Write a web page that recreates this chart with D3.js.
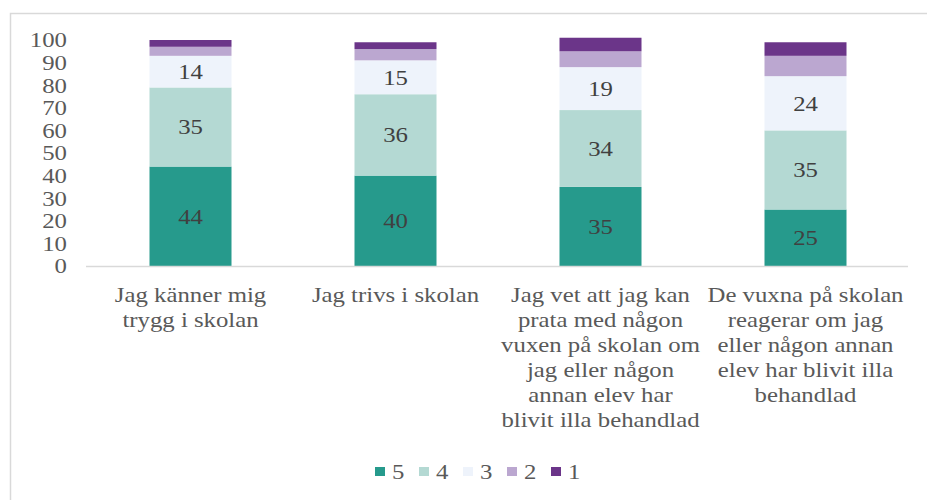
<!DOCTYPE html>
<html>
<head>
<meta charset="utf-8">
<script src="https://cdn.jsdelivr.net/npm/d3@7"></script>
<style>
  body { margin: 0; background: #fff; }
</style>
</head>
<body>
<div id="chart"></div>
<script>
/* data */
const categories = [
  ["Jag känner mig", "trygg i skolan"],
  ["Jag trivs i skolan"],
  ["Jag vet att jag kan", "prata med någon", "vuxen på skolan om", "jag eller någon", "annan elev har", "blivit illa behandlad"],
  ["De vuxna på skolan", "reagerar om jag", "eller någon annan", "elev har blivit illa", "behandlad"]
];
const seriesNames = ["5", "4", "3", "2", "1"];
const v5 = [44, 40, 35, 25];
const v4 = [35, 36, 34, 35];
const v3 = [14, 15, 19, 24];
const v2 = [4, 5, 7, 9];
const v1 = [3, 3, 6, 6];
const yTicks = [0, 10, 20, 30, 40, 50, 60, 70, 80, 90, 100];
const colors = ["#269a8c", "#b4d9d3", "#eef3fb", "#bba7d0", "#6b3589"];

const width = 927, height = 500;
const stretch = 1.18;
const fontFamily = "'Liberation Serif', 'DejaVu Serif', serif";

const svg = d3.select("#chart").append("svg")
  .attr("width", width).attr("height", height)
  .attr("font-family", fontFamily)
  .style("font-family", fontFamily);

// outer frame
svg.append("rect")
  .attr("x", 10.5).attr("y", 13.5)
  .attr("width", 960).attr("height", 600)
  .attr("fill", "none").attr("stroke", "#d9d9d9").attr("stroke-width", 1.5);

const rows = categories.map((c, i) => ({
  i: i, "5": v5[i], "4": v4[i], "3": v3[i], "2": v2[i], "1": v1[i]
}));
const stack = d3.stack().keys(seriesNames)(rows);

const x = d3.scaleBand().domain(d3.range(categories.length))
  .range([88, 908]).paddingInner(0.6).paddingOuter(0.3);
const y = d3.scaleLinear().domain([0, 100]).range([266, 40]);

function stretched(sel, px, py) {
  sel.attr("transform", `translate(${px},${py}) scale(${stretch},1)`);
}

// y tick labels
svg.selectAll(".ytick").data(yTicks).enter().append("text")
  .attr("class", "ytick")
  .attr("text-anchor", "end")
  .attr("dy", "0.35em")
  .attr("font-size", 21)
  .attr("fill", "#595959")
  .each(function(d) { stretched(d3.select(this), 67, y(d)); })
  .text(d => d);

// bars
const groups = svg.selectAll(".series").data(stack).enter().append("g")
  .attr("class", "series")
  .attr("fill", (d, i) => colors[i]);

groups.selectAll("rect").data(d => d).enter().append("rect")
  .attr("x", (d, j) => x(j))
  .attr("y", d => y(d[1]))
  .attr("width", x.bandwidth())
  .attr("height", d => y(d[0]) - y(d[1]));

// value labels for 5, 4, 3
stack.slice(0, 3).forEach(s => {
  s.forEach((d, j) => {
    svg.append("text")
      .attr("text-anchor", "middle")
      .attr("dy", "0.35em")
      .attr("font-size", 21)
      .attr("fill", "#404040")
      .call(stretched, x(j) + x.bandwidth() / 2, y((d[0] + d[1]) / 2))
      .text(d[1] - d[0]);
  });
});

// baseline
svg.append("line")
  .attr("x1", 86).attr("x2", 908)
  .attr("y1", y(0) + 0.5).attr("y2", y(0) + 0.5)
  .attr("stroke", "#d9d9d9").attr("stroke-width", 1.5);

// category labels
categories.forEach((lines, j) => {
  lines.forEach((line, k) => {
    svg.append("text")
      .attr("text-anchor", "middle")
      .attr("font-size", 21)
      .attr("fill", "#595959")
      .call(stretched, x(j) + x.bandwidth() / 2, 302 + k * 25)
      .text(line);
  });
});

// legend
const legend = svg.selectAll(".legend").data(seriesNames).enter().append("g")
  .attr("class", "legend")
  .attr("transform", (d, i) => `translate(${375 + i * 44},467)`);
legend.append("rect")
  .attr("width", 10).attr("height", 9)
  .attr("fill", (d, i) => colors[i]);
legend.append("text")
  .attr("dy", "0.35em")
  .attr("font-size", 21)
  .attr("fill", "#595959")
  .call(stretched, 17, 4.5)
  .text(d => d);
</script>
</body>
</html>
